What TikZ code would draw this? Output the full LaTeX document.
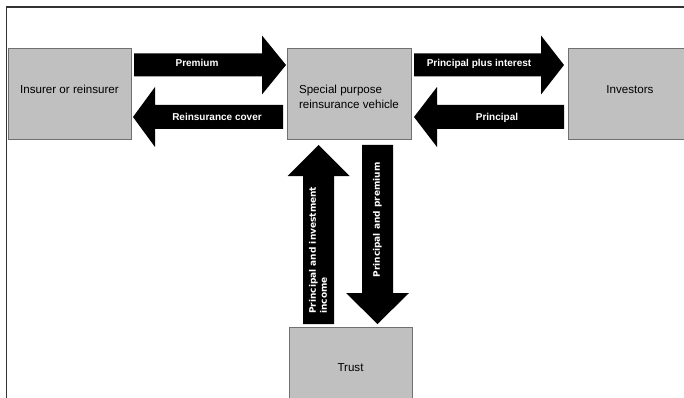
\documentclass[tikz,border=0pt]{standalone}
\usepackage{fontspec}
\setmainfont{Liberation Sans}
\newfontfamily\vfont{DejaVu Sans}
\usetikzlibrary{calc}
\definecolor{boxfill}{RGB}{192,192,192}
\definecolor{boxline}{RGB}{112,112,112}
\definecolor{framecol}{RGB}{50,50,50}
\begin{document}
\begin{tikzpicture}[x=1pt,y=-1pt,
  box/.style={draw=boxline, fill=boxfill, line width=0.8pt, minimum width=124pt, minimum height=91pt, inner sep=0pt, outer sep=0pt},
  boxtext/.style={font=\fontsize{11.6}{14.5}\selectfont, inner sep=0pt},
  arrowtext/.style={font=\bfseries\fontsize{10}{12}\selectfont, text=white, inner sep=0pt, anchor=base},
  vtext/.style={font=\vfont\bfseries\fontsize{9}{11}\selectfont, text=white, inner sep=0pt, rotate=90},
  frame/.style={draw=framecol, line width=1.4pt},
  pics/barrow/.style n args={4}{code={\fill[black] (0,-#2) -- (#1-#4,-#2) -- (#1-#4,-#3) -- (#1,0) -- (#1-#4,#3) -- (#1-#4,#2) -- (0,#2) -- cycle;}}
]
\useasboundingbox (0,0) rectangle (684,398);
\clip (0,0) rectangle (684,398);
\fill[white] (0,0) rectangle (684,398);

% boxes
\node[box, minimum width=123pt] (ins) at (69.5,93.5) {};
\node[box] (spv) at (349,93.5) {};
\node[box] (inv) at (630,93.5) {};
\node[box, minimum width=123pt] (trust) at (350.5,372.5) {};

\node[boxtext, anchor=base] (insL) at (69.5,93.3) {Insurer or reinsurer};
\node[boxtext, align=left] (spvL) at (349,97) {Special purpose\\reinsurance vehicle};
\node[boxtext, anchor=base] (invL) at (630,93.3) {Investors};
\node[boxtext, anchor=base] (trustL) at (350.5,371) {Trust};

% arrow tails
\coordinate (premT) at ($(ins.east)+(3,-28.5)$);
\coordinate (reinT) at ($(spv.west)+(-4,23.5)$);
\coordinate (ppiT) at ($(spv.east)+(3,-28.5)$);
\coordinate (prinT) at ($(inv.west)+(-4,23.5)$);
\coordinate (upT) at ($(trust.north)+(-32,-3)$);
\coordinate (downT) at ($(spv.south)+(28.5,6)$);

\pic at (premT) {barrow={152}{11.5}{29.5}{24}};
\pic[rotate=180] at (reinT) {barrow={150}{12}{30}{22}};
\pic at (ppiT) {barrow={150}{11.5}{29.5}{23}};
\pic[rotate=180] at (prinT) {barrow={150}{12}{30}{23}};
\pic[rotate=90] at (upT) {barrow={179}{15.5}{31}{31}};
\pic[rotate=-90] at (downT) {barrow={179}{15.5}{31.5}{31}};

% arrow labels
\node[arrowtext] (premL) at (197,66.7) {Premium};
\node[arrowtext] (reinL) at (217,120.7) {Reinsurance cover};
\node[arrowtext] (ppiL) at (479,66.7) {Principal plus interest};
\node[arrowtext] (prinL) at (497,120.7) {Principal};
\node[vtext] (ppL) at (377.5,220) {Principal and premium};
\node[vtext, anchor=west, align=left] (piL) at (318,314) {Principal and investment\\income};

% frame
\draw[frame] (6.5,398) -- (6.5,7) -- (684,7);
\end{tikzpicture}
\end{document}
